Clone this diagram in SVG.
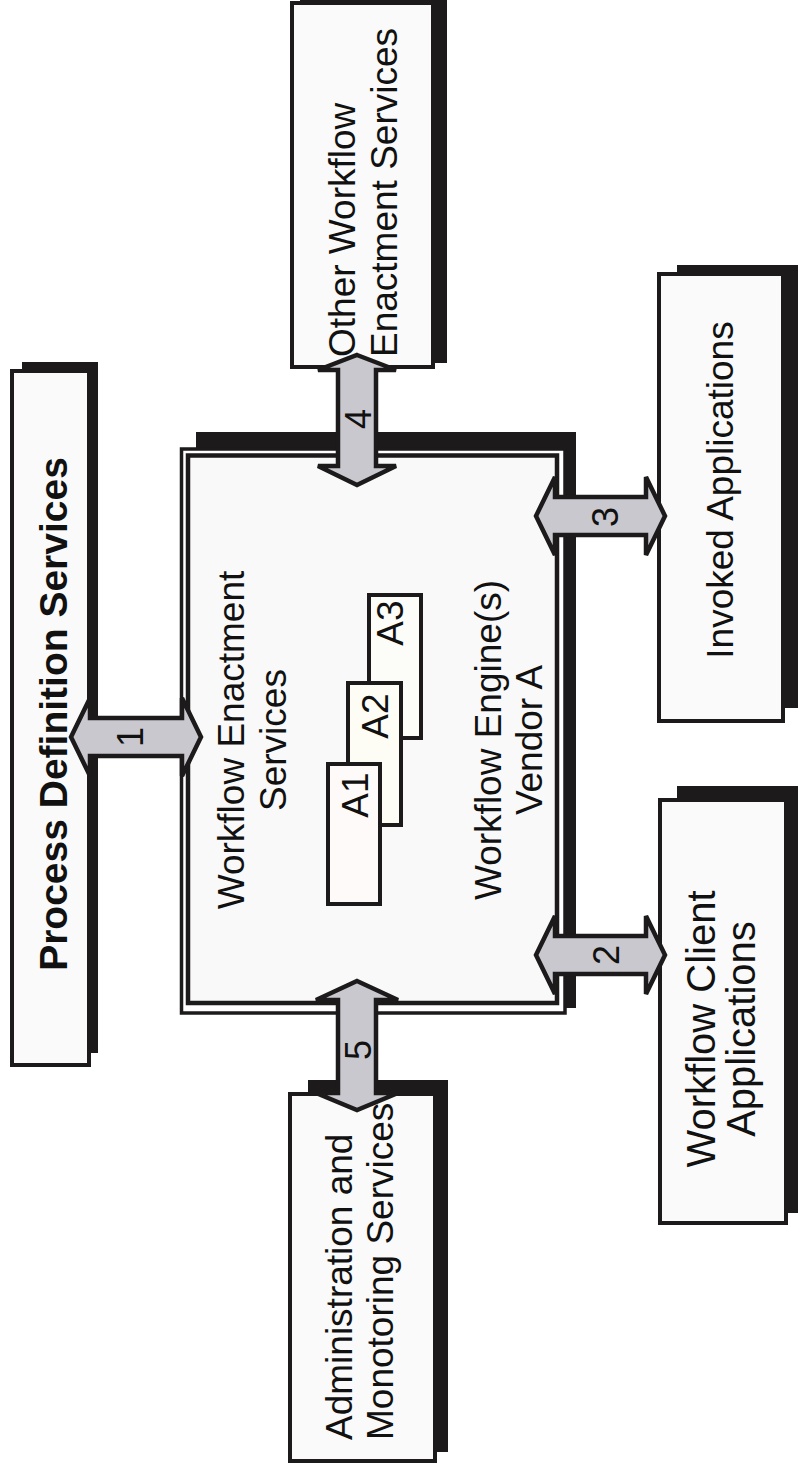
<svg xmlns="http://www.w3.org/2000/svg" width="799" height="1474" viewBox="0 0 799 1474">
<style>
.shadow{fill:#1c1a1a}
.box{fill:#fafafa;stroke:#1c1a1a;stroke-width:4}
.abox{stroke:#1c1a1a;stroke-width:4}
.arrow{fill:#c8c8ce;stroke:#1c1a1a;stroke-width:4.5;stroke-linejoin:miter}
text{font-family:"Liberation Sans",Arial,sans-serif;fill:#111}
.mid{font-size:37px}
.num{font-size:36px}
</style>
<rect width="799" height="1474" fill="#ffffff"/>

<g id="process-definition">
<rect class="shadow" x="22" y="362" width="76" height="691"/>
<rect class="box" x="12" y="371" width="77" height="694"/>
<text x="67" y="714" font-size="39" font-weight="bold" text-anchor="middle" transform="rotate(-90 67 714)">Process Definition Services</text>
</g>

<g id="other-workflow">
<rect class="shadow" x="300" y="-10" width="147" height="373"/>
<rect class="box" x="292" y="3" width="141" height="364"/>
<text class="mid" transform="rotate(-90 355 357)" x="355" y="357">Other Workflow</text>
<text class="mid" transform="rotate(-90 397 357)" x="397" y="357">Enactment Services</text>
</g>

<g id="invoked-applications">
<rect class="shadow" x="677" y="265" width="121" height="443"/>
<rect class="box" x="659" y="274" width="124" height="447"/>
<text class="mid" text-anchor="middle" transform="rotate(-90 733 490)" x="733" y="490">Invoked Applications</text>
</g>

<g id="workflow-client">
<rect class="shadow" x="677" y="786" width="121" height="427"/>
<rect class="box" x="660" y="800" width="126" height="423"/>
<text style="font-size:40px" text-anchor="middle" transform="rotate(-90 715 1029)" x="715" y="1029">Workflow Client</text>
<text style="font-size:40px" text-anchor="middle" transform="rotate(-90 755 1029)" x="755" y="1029">Applications</text>
</g>

<g id="administration">
<rect class="shadow" x="308" y="1080" width="140" height="372"/>
<rect class="box" x="290" y="1094" width="145" height="367"/>
<text class="mid" transform="rotate(-90 352 1440)" x="352" y="1440">Administration and</text>
<text class="mid" transform="rotate(-90 393 1440)" x="393" y="1440">Monotoring Services</text>
</g>

<g id="workflow-enactment">
<rect class="shadow" x="196" y="432" width="380" height="576"/>
<rect x="181.5" y="449" width="383.5" height="564" fill="#ffffff" stroke="#1c1a1a" stroke-width="3.5"/>
<rect x="188" y="455.5" width="369" height="547.5" fill="#f9f9f9" stroke="#1c1a1a" stroke-width="4.5"/>
<text class="mid" text-anchor="middle" transform="rotate(-90 244 740)" x="244" y="740">Workflow Enactment</text>
<text class="mid" text-anchor="middle" transform="rotate(-90 286 740)" x="286" y="740">Services</text>
<text class="mid" text-anchor="middle" transform="rotate(-90 501 740)" x="501" y="740">Workflow Engine(s)</text>
<text class="mid" text-anchor="middle" transform="rotate(-90 542 740)" x="542" y="740">Vendor A</text>
</g>

<g id="a3">
<rect class="abox" x="369" y="595" width="52" height="143" fill="#fcfcf9"/>
<text class="mid" text-anchor="middle" transform="rotate(-90 403 623)" x="403" y="623">A3</text>
</g>
<g id="a2">
<rect class="abox" x="348" y="683" width="53" height="142" fill="#fdfdf6"/>
<text class="mid" text-anchor="middle" transform="rotate(-90 388 716)" x="388" y="716">A2</text>
</g>
<g id="a1">
<rect class="abox" x="328" y="764" width="52" height="140" fill="#fefafa"/>
<text class="mid" text-anchor="middle" transform="rotate(-90 368 795)" x="368" y="795">A1</text>
</g>

<g id="connectors">
<path class="arrow" d="M71,737 L90,698 L90,718 L182,718 L182,698 L201,737 L182,776 L182,756 L90,756 L90,776 Z"/>
<text class="num" text-anchor="middle" transform="rotate(-90 143 737)" x="143" y="737">1</text>
<path class="arrow" d="M536,955 L555,916 L555,936 L646,936 L646,916 L665,955 L646,994 L646,974 L555,974 L555,994 Z"/>
<text class="num" text-anchor="middle" transform="rotate(-90 619 955)" x="619" y="955">2</text>
<path class="arrow" d="M536,516 L555,477 L555,497 L646,497 L646,477 L665,516 L646,555 L646,535 L555,535 L555,555 Z"/>
<text class="num" text-anchor="middle" transform="rotate(-90 618 517)" x="618" y="517">3</text>
<path class="arrow" d="M357,355 L396,370 L376,370 L376,466 L396,466 L357,485 L318,466 L338,466 L338,370 L318,370 Z"/>
<text class="num" text-anchor="middle" transform="rotate(-90 371 419)" x="371" y="419">4</text>
<path class="arrow" d="M357,981 L398,1000 L376,1000 L376,1093 L398,1093 L357,1110 L316,1093 L338,1093 L338,1000 L316,1000 Z"/>
<text class="num" text-anchor="middle" transform="rotate(-90 371 1050)" x="371" y="1050">5</text>
</g>
</svg>
